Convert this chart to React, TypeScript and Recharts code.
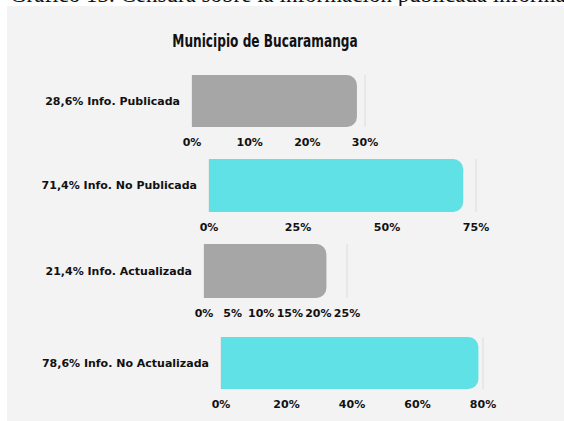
import React from 'react';
import { BarChart, Bar, XAxis, YAxis, CartesianGrid } from 'recharts';

// values
const labels = [
  '28,6% Info. Publicada',
  '71,4% Info. No Publicada',
  '21,4% Info. Actualizada',
  '78,6% Info. No Actualizada',
];
const values = [28.6, 71.4, 21.4, 78.6];
const axisTicks = [
  [0, 10, 20, 30],
  [0, 25, 50, 75],
  [0, 5, 10, 15, 20, 25],
  [0, 20, 40, 60, 80],
];
const barColors = ['#a6a6a6', '#5fe1e6', '#a6a6a6', '#5fe1e6'];

// where each small chart sits on the page (plot left/right edge, top, bar height)
const boxes = [
  { top: 75, left: 192, right: 365, h: 52 },
  { top: 159, left: 209, right: 476, h: 53 },
  { top: 244, left: 204, right: 347, h: 54 },
  { top: 337, left: 221, right: 483, h: 52 },
];

const font = '"DejaVu Sans", sans-serif';
const tickStyle = { fill: '#111', fontSize: 11, fontWeight: 700, fontFamily: font };

interface HBarProps {
  label: string;
  value: number;
  ticks: number[];
  color: string;
  box: { top: number; left: number; right: number; h: number };
}

const HBar: React.FC<HBarProps> = ({ label, value, ticks, color, box }) => {
  const data = [{ name: label, value }];
  const max = ticks[ticks.length - 1];
  const rightPad = 40;
  return (
    <div style={{ position: 'absolute', left: 0, top: box.top }}>
      <BarChart
        width={box.right + rightPad}
        height={box.h + 30}
        data={data}
        layout="vertical"
        margin={{ top: 0, right: rightPad, left: 0, bottom: 0 }}
        barCategoryGap={0}
      >
        <CartesianGrid horizontal={false} stroke="#dcdcdc" />
        <XAxis
          type="number"
          domain={[0, max]}
          ticks={ticks}
          interval={0}
          tickFormatter={(v) => `${v}%`}
          axisLine={false}
          tickLine={false}
          tick={tickStyle}
          tickMargin={5}
          height={30}
        />
        <YAxis
          type="category"
          dataKey="name"
          width={box.left}
          axisLine={false}
          tickLine={false}
          tick={tickStyle}
          tickMargin={6}
        />
        <Bar dataKey="value" fill={color} radius={[0, 10, 10, 0]} isAnimationActive={false} />
      </BarChart>
    </div>
  );
};

export default function App() {
  return (
    <div style={{ position: 'absolute', left: 0, top: 0, width: 564, height: 421, background: '#fff', overflow: 'hidden' }}>
      {/* caption of the source page, cut off at the top as in the original */}
      <div
        style={{
          position: 'absolute',
          left: 10,
          top: -18,
          whiteSpace: 'nowrap',
          fontFamily: '"Liberation Serif", serif',
          fontSize: 23,
          lineHeight: '26px',
          color: '#111',
        }}
      >
        Gráfico 13. Censura sobre la información publicada informada
      </div>
      <div style={{ position: 'absolute', left: 7, top: 6, right: 0, bottom: 0, background: '#f3f3f3' }} />
      <div
        style={{
          position: 'absolute',
          left: 0,
          width: 530,
          top: 30,
          textAlign: 'center',
          fontFamily: '"DejaVu Sans Condensed", sans-serif',
          fontWeight: 700,
          fontSize: 18,
          lineHeight: '22px',
          color: '#111',
          transform: 'scaleX(0.75)',
          transformOrigin: '265px 0',
        }}
      >
        Municipio de Bucaramanga
      </div>
      {values.map((v, i) => (
        <HBar key={i} label={labels[i]} value={v} ticks={axisTicks[i]} color={barColors[i]} box={boxes[i]} />
      ))}
    </div>
  );
}
